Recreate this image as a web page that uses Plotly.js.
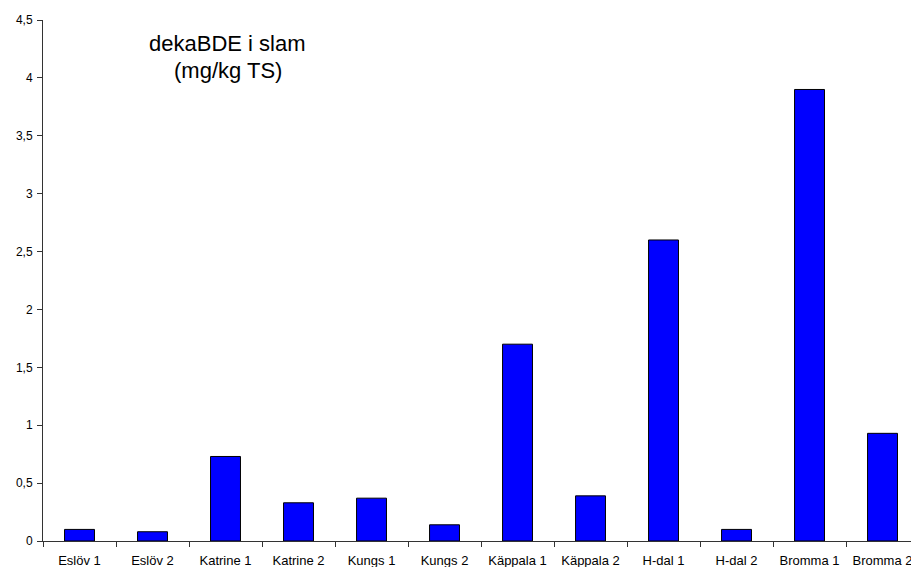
<!DOCTYPE html>
<html>
<head>
<meta charset="utf-8">
<script src="https://cdn.plot.ly/plotly-3.0.1.min.js"></script>
<style>
  html, body { margin: 0; padding: 0; background: #ffffff; }
  #chart { width: 911px; height: 567px; }
</style>
</head>
<body>
<div id="chart"></div>
<script>
// Sampling sites (two samples per treatment plant)
const sites = [
  "Eslöv 1", "Eslöv 2", "Katrine 1", "Katrine 2", "Kungs 1", "Kungs 2",
  "Käppala 1", "Käppala 2", "H-dal 1", "H-dal 2", "Bromma 1", "Bromma 2"
];

// Decabromodiphenyl ether in sewage sludge, mg/kg dry solids
const dekaBDE = [0.10, 0.08, 0.73, 0.33, 0.37, 0.14, 1.70, 0.39, 2.60, 0.10, 3.90, 0.93];

const titleLines = ["dekaBDE i slam", "(mg/kg TS)"];

const font = "Liberation Sans, Arial, sans-serif";

const trace = {
  type: "bar",
  x: sites,
  y: dekaBDE,
  marker: {
    color: "#0000ff",
    line: { color: "#000000", width: 1 }
  },
  hoverinfo: "x+y"
};

const layout = {
  width: 911,
  height: 567,
  margin: { l: 43, r: 0, t: 20, b: 26, pad: 0 },
  paper_bgcolor: "#ffffff",
  plot_bgcolor: "#ffffff",
  separators: ", ",
  bargap: 0.59,
  showlegend: false,
  font: { family: font, color: "#000000" },
  xaxis: {
    type: "category",
    range: [-0.5, 11.39],
    showgrid: false,
    zeroline: false,
    showline: true,
    linecolor: "#333333",
    linewidth: 1,
    ticks: "outside",
    tickson: "boundaries",
    ticklen: 5,
    tickcolor: "#333333",
    tickfont: { family: font, size: 13, color: "#000000" },
    ticklabelstandoff: 7,
    fixedrange: true
  },
  yaxis: {
    range: [0, 4.5],
    dtick: 0.5,
    tick0: 0,
    showgrid: false,
    zeroline: false,
    showline: true,
    linecolor: "#333333",
    linewidth: 1,
    ticks: "outside",
    ticklen: 5,
    tickcolor: "#333333",
    tickfont: { family: font, size: 12, color: "#000000" },
    ticklabelstandoff: 2,
    fixedrange: true
  },
  annotations: [
    {
      text: titleLines[0],
      xref: "paper", yref: "paper",
      x: (227 - 43) / 868, y: 1 + (20 - 43) / 521,
      xanchor: "center", yanchor: "middle",
      showarrow: false,
      font: { family: font, size: 22, color: "#000000" }
    },
    {
      text: titleLines[1],
      xref: "paper", yref: "paper",
      x: (228 - 43) / 868, y: 1 + (20 - 70) / 521,
      xanchor: "center", yanchor: "middle",
      showarrow: false,
      font: { family: font, size: 22, color: "#000000" }
    }
  ]
};

Plotly.newPlot("chart", [trace], layout, { displayModeBar: false, staticPlot: true });
</script>
</body>
</html>
